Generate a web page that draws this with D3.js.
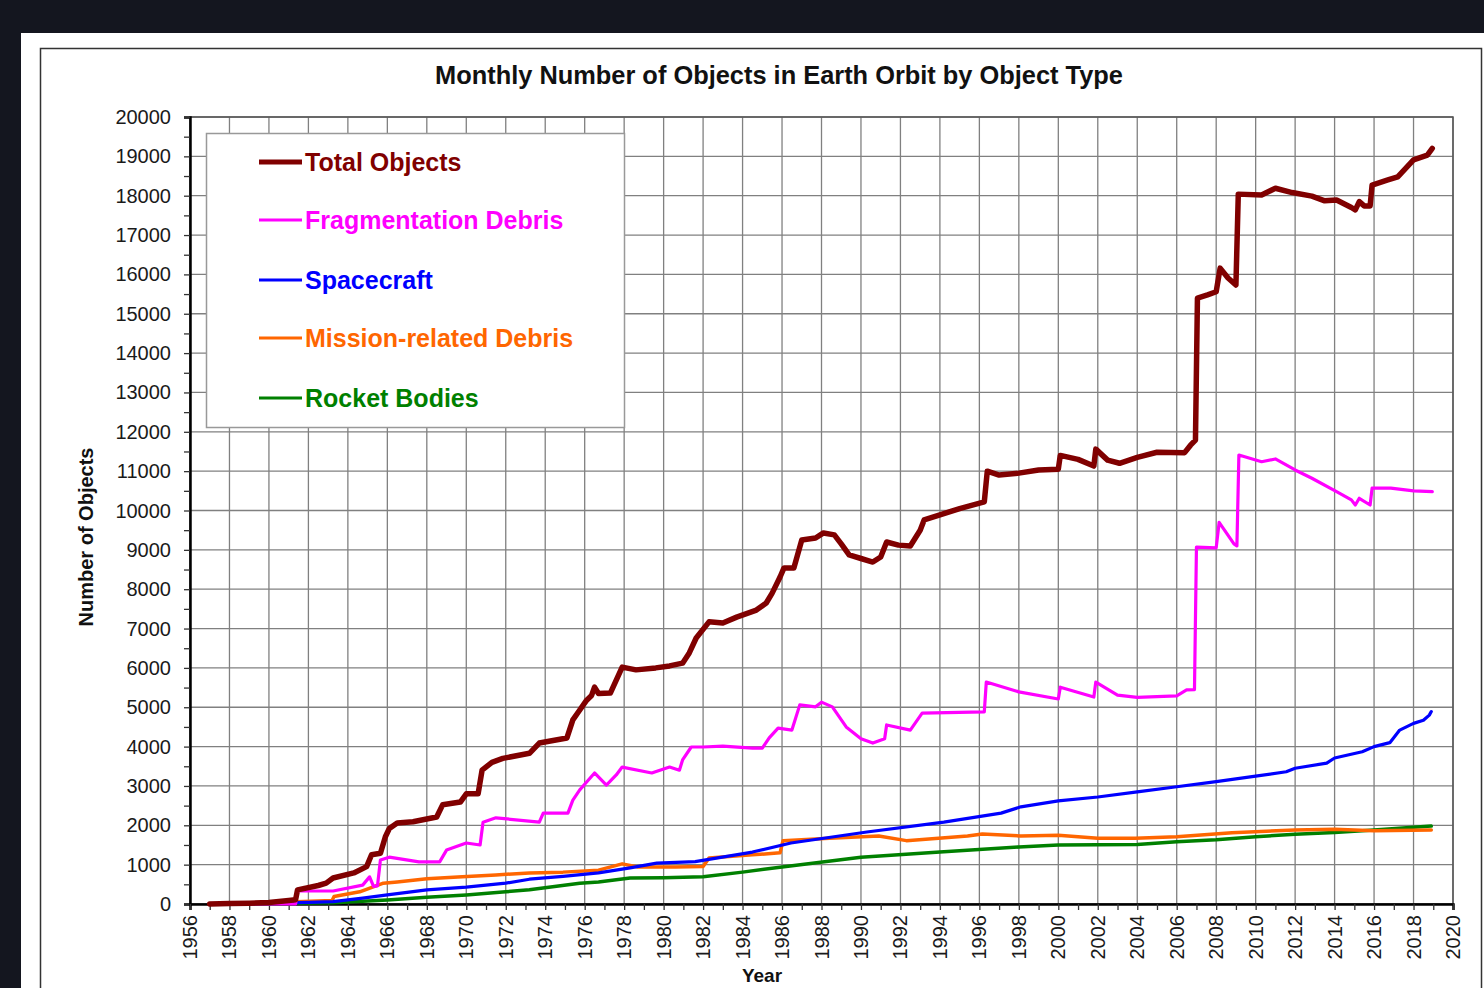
<!DOCTYPE html>
<html>
<head>
<meta charset="utf-8">
<script src="https://cdn.jsdelivr.net/npm/d3@7"></script>
<style>
  html, body { margin: 0; padding: 0; background: #14161f; overflow: hidden; }
  svg { display: block; }
  text { font-family: "Liberation Sans", Arial, sans-serif; }
</style>
</head>
<body>
<div id="SVG_CONTAINER"></div>
<script>
// [year, count]
const totalObjects = [
  [1957.0, 0], [1958.0, 10], [1959.0, 20], [1960.0, 40], [1961.0, 90], [1961.35, 110], [1961.45, 360],
  [1962.5, 470], [1962.9, 530], [1963.25, 660], [1964.3, 790], [1964.95, 950], [1965.2, 1250],
  [1965.65, 1290], [1965.9, 1710], [1966.1, 1920], [1966.5, 2060], [1967.3, 2090], [1968.5, 2210],
  [1968.8, 2520], [1969.7, 2590], [1970.0, 2800], [1970.6, 2800], [1970.8, 3400], [1971.3, 3600],
  [1971.85, 3700], [1973.2, 3830], [1973.7, 4090], [1975.1, 4220], [1975.4, 4680], [1975.75, 4930],
  [1976.1, 5180], [1976.35, 5300], [1976.5, 5510], [1976.7, 5350], [1977.3, 5360], [1977.9, 6020],
  [1978.6, 5950], [1979.6, 6000], [1980.3, 6050], [1980.96, 6120], [1981.3, 6380], [1981.65, 6760],
  [1982.3, 7170], [1983.0, 7140], [1983.7, 7290], [1984.7, 7470], [1985.2, 7650], [1985.5, 7900],
  [1985.9, 8310], [1986.1, 8540], [1986.6, 8540], [1987.0, 9250], [1987.7, 9300], [1988.1, 9430],
  [1988.65, 9380], [1989.0, 9150], [1989.4, 8870], [1990.0, 8780], [1990.6, 8690], [1991.0, 8820],
  [1991.3, 9200], [1991.9, 9120], [1992.5, 9100], [1993.0, 9500], [1993.2, 9760], [1994.0, 9890],
  [1995.0, 10050], [1996.25, 10220], [1996.4, 11000], [1997.0, 10900], [1998.0, 10950], [1999.0, 11030],
  [2000.0, 11050], [2000.1, 11400], [2001.0, 11300], [2001.8, 11130], [2001.9, 11560], [2002.5, 11280],
  [2003.1, 11200], [2004.0, 11350], [2005.0, 11480], [2006.4, 11470], [2006.7, 11660], [2006.95, 11790],
  [2007.05, 15400], [2007.56, 15480], [2008.0, 15560], [2008.2, 16160], [2008.6, 15910], [2009.0, 15730],
  [2009.12, 18040], [2010.3, 18020], [2011.0, 18190], [2011.85, 18080], [2012.85, 17990], [2013.5, 17870],
  [2014.1, 17890], [2014.85, 17700], [2015.05, 17640], [2015.25, 17850], [2015.5, 17740], [2015.8, 17740],
  [2015.9, 18270], [2016.7, 18400], [2017.2, 18480], [2018.0, 18910], [2018.7, 19030], [2018.95, 19200]
];

const fragmentationDebris = [
  [1957.0, 0], [1961.35, 0], [1961.45, 330], [1963.25, 330], [1964.75, 480], [1965.1, 690], [1965.3, 450],
  [1965.5, 460], [1965.65, 1120], [1966.1, 1190], [1967.6, 1070], [1968.65, 1070], [1969.0, 1370],
  [1970.0, 1550], [1970.7, 1500], [1970.85, 2080], [1971.5, 2190], [1973.7, 2080], [1973.9, 2310],
  [1975.15, 2310], [1975.4, 2640], [1975.75, 2900], [1976.1, 3100], [1976.5, 3330], [1977.1, 3020],
  [1977.6, 3280], [1977.9, 3480], [1979.4, 3330], [1980.3, 3480], [1980.8, 3400], [1980.96, 3660],
  [1981.4, 3990], [1982.0, 3990], [1983.0, 4010], [1984.5, 3960], [1985.0, 3960], [1985.35, 4220],
  [1985.8, 4470], [1986.5, 4420], [1986.9, 5060], [1987.7, 5010], [1988.0, 5130], [1988.55, 5010],
  [1989.25, 4500], [1990.0, 4200], [1990.6, 4090], [1991.2, 4200], [1991.3, 4550], [1992.5, 4420],
  [1993.1, 4850], [1996.25, 4880], [1996.35, 5640], [1998.0, 5390], [2000.0, 5210], [2000.1, 5510],
  [2001.8, 5260], [2001.9, 5640], [2003.0, 5310], [2004.0, 5250], [2006.0, 5290], [2006.5, 5440],
  [2006.9, 5450], [2007.0, 9070], [2008.0, 9050], [2008.15, 9700], [2008.9, 9150], [2009.05, 9100],
  [2009.15, 11410], [2010.3, 11240], [2011.0, 11310], [2012.0, 11030], [2012.85, 10820], [2014.1, 10480],
  [2014.85, 10270], [2015.05, 10140], [2015.25, 10310], [2015.8, 10140], [2015.9, 10570], [2016.85, 10570],
  [2018.0, 10500], [2018.95, 10480]
];

const spacecraft = [
  [1957.0, 0], [1960.0, 20], [1962.0, 40], [1963.25, 60], [1964.75, 150], [1966.0, 230], [1968.0, 360],
  [1970.0, 430], [1972.0, 530], [1973.2, 630], [1974.9, 700], [1976.7, 790], [1978.3, 920],
  [1979.65, 1040], [1981.6, 1075], [1984.5, 1320], [1986.45, 1550], [1990.3, 1830], [1994.2, 2080],
  [1997.1, 2310], [1998.1, 2470], [2000.0, 2620], [2002.0, 2720], [2004.0, 2850], [2006.0, 2980],
  [2008.0, 3110], [2010.0, 3250], [2011.55, 3360], [2012.0, 3450], [2013.6, 3580], [2014.0, 3710],
  [2015.4, 3870], [2016.0, 4000], [2016.8, 4100], [2017.3, 4420], [2018.0, 4590], [2018.5, 4670],
  [2018.8, 4800], [2018.9, 4890]
];

const missionDebris = [
  [1957.0, 0], [1961.0, 30], [1961.4, 60], [1963.2, 90], [1963.3, 190], [1964.6, 310], [1965.8, 530],
  [1966.5, 560], [1968.0, 640], [1969.8, 690], [1971.5, 740], [1973.2, 790], [1974.9, 810], [1976.7, 860],
  [1977.9, 1020], [1978.7, 940], [1980.6, 940], [1982.0, 950], [1982.3, 1170], [1984.5, 1250],
  [1985.9, 1300], [1986.05, 1610], [1988.4, 1670], [1990.9, 1730], [1992.3, 1610], [1995.4, 1730],
  [1996.15, 1780], [1998.1, 1730], [2000.0, 1750], [2002.0, 1670], [2003.9, 1670], [2006.0, 1710],
  [2008.8, 1810], [2012.0, 1880], [2014.0, 1900], [2016.0, 1860], [2018.9, 1880]
];

const rocketBodies = [
  [1957.0, 0], [1961.0, 20], [1963.25, 30], [1966.0, 100], [1968.0, 170], [1970.0, 230], [1972.0, 310],
  [1973.2, 360], [1975.75, 530], [1976.7, 560], [1978.3, 660], [1980.0, 670], [1982.0, 690],
  [1984.0, 810], [1986.0, 940], [1990.0, 1190], [1994.0, 1320], [1998.0, 1450], [2000.0, 1500],
  [2004.0, 1510], [2006.0, 1580], [2008.0, 1630], [2010.0, 1710], [2012.0, 1770], [2014.0, 1820],
  [2016.0, 1880], [2018.9, 1980]
];

const seriesNames = ["Total Objects", "Fragmentation Debris", "Spacecraft", "Mission-related Debris", "Rocket Bodies"];
const seriesColors = ["#800000", "#ff00ff", "#0000ff", "#ff6600", "#008000"];
const yTicks = d3.range(0, 20001, 1000);
const xTicks = d3.range(1956, 2021, 2);

const width = 1484, height = 988;
const plot = {left: 190, right: 1453, top: 117, bottom: 904};

const svg = d3.select("#SVG_CONTAINER")
    .append("svg")
    .attr("width", width)
    .attr("height", height);

// page / frame
svg.append("rect").attr("x", 21).attr("y", 33).attr("width", width).attr("height", height).attr("fill", "#fff");
svg.append("rect").attr("x", 40.5).attr("y", 48.5).attr("width", 1441).attr("height", 1000)
    .attr("fill", "none").attr("stroke", "#333").attr("stroke-width", 1.5);

let x = d3.scaleLinear().domain([1956, 2020]).range([plot.left, plot.right]);
let y = d3.scaleLinear().domain([0, 20000]).range([plot.bottom, plot.top]);

// grid
svg.append("g").selectAll("line").data(yTicks).enter().append("line")
    .attr("x1", plot.left).attr("x2", plot.right)
    .attr("y1", d => y(d)).attr("y2", d => y(d))
    .attr("stroke", "#808080").attr("stroke-width", 1.3);
svg.append("g").selectAll("line").data(xTicks).enter().append("line")
    .attr("x1", d => x(d)).attr("x2", d => x(d))
    .attr("y1", plot.top).attr("y2", plot.bottom)
    .attr("stroke", "#808080").attr("stroke-width", 1.3);
svg.append("rect")
    .attr("x", plot.left).attr("y", plot.top)
    .attr("width", plot.right - plot.left).attr("height", plot.bottom - plot.top)
    .attr("fill", "none").attr("stroke", "#555").attr("stroke-width", 1.5);

// axes
let yAxis = d3.axisLeft(y).tickValues(d3.range(0, 20001, 500)).tickSize(6).tickFormat("");
svg.append("g").attr("transform", "translate(" + plot.left + ",0)").call(yAxis)
    .call(g => g.select(".domain").attr("stroke", "#000").attr("stroke-width", 2.5))
    .call(g => g.selectAll(".tick line").attr("stroke", "#333").attr("stroke-width", 1.3));
svg.append("g").selectAll("text").data(yTicks).enter().append("text")
    .attr("x", 171).attr("y", d => y(d) + 7)
    .attr("text-anchor", "end")
    .attr("font-size", "20px")
    .attr("fill", "#1a1a1a")
    .text(d => d);

let xAxis = d3.axisBottom(x).tickValues(d3.range(1956, 2021, 1)).tickSize(6).tickFormat("");
svg.append("g").attr("transform", "translate(0," + plot.bottom + ")").call(xAxis)
    .call(g => g.select(".domain").attr("stroke", "#000").attr("stroke-width", 2.5))
    .call(g => g.selectAll(".tick line").attr("stroke", "#333").attr("stroke-width", 1.3));
svg.append("g").selectAll("text").data(xTicks).enter().append("text")
    .attr("transform", d => "translate(" + (x(d) + 7) + "," + 915 + ") rotate(-90)")
    .attr("text-anchor", "end")
    .attr("font-size", "20px")
    .attr("fill", "#1a1a1a")
    .text(d => d);

// lines
let line = d3.line().x(d => x(d[0])).y(d => y(d[1]));
let allSeries = [totalObjects, fragmentationDebris, spacecraft, missionDebris, rocketBodies];
let widths = [5.5, 3.2, 3.2, 3.5, 3.5];
for (let i = allSeries.length - 1; i >= 0; i--) {
    svg.append("path")
        .datum(allSeries[i])
        .attr("d", line)
        .attr("fill", "none")
        .attr("stroke", seriesColors[i])
        .attr("stroke-width", widths[i])
        .attr("stroke-linejoin", "round")
        .attr("stroke-linecap", "round");
}

// legend
svg.append("rect").attr("x", 206.5).attr("y", 133.5).attr("width", 418).attr("height", 294)
    .attr("fill", "#fff").attr("stroke", "#999").attr("stroke-width", 1.5);
let legendY = [162, 220, 280, 338, 398];
for (let i = 0; i < seriesNames.length; i++) {
    svg.append("line")
        .attr("x1", 259).attr("x2", 302)
        .attr("y1", legendY[i]).attr("y2", legendY[i])
        .attr("stroke", seriesColors[i])
        .attr("stroke-width", i === 0 ? 5 : 3);
    svg.append("text")
        .attr("x", 305).attr("y", legendY[i] + 8.5)
        .attr("font-size", "25px")
        .attr("font-weight", "bold")
        .attr("fill", seriesColors[i])
        .text(seriesNames[i]);
}

// titles
svg.append("text")
    .attr("x", 779).attr("y", 84)
    .attr("text-anchor", "middle")
    .attr("font-size", "25.4px")
    .attr("font-weight", "bold")
    .attr("fill", "#111")
    .text("Monthly Number of Objects in Earth Orbit by Object Type");

svg.append("text")
    .attr("transform", "translate(93,537) rotate(-90)")
    .attr("text-anchor", "middle")
    .attr("font-size", "20px")
    .attr("font-weight", "bold")
    .attr("fill", "#111")
    .text("Number of Objects");

svg.append("text")
    .attr("x", 762).attr("y", 982)
    .attr("text-anchor", "middle")
    .attr("font-size", "19px")
    .attr("font-weight", "bold")
    .attr("fill", "#111")
    .text("Year");
</script>
</body>
</html>
